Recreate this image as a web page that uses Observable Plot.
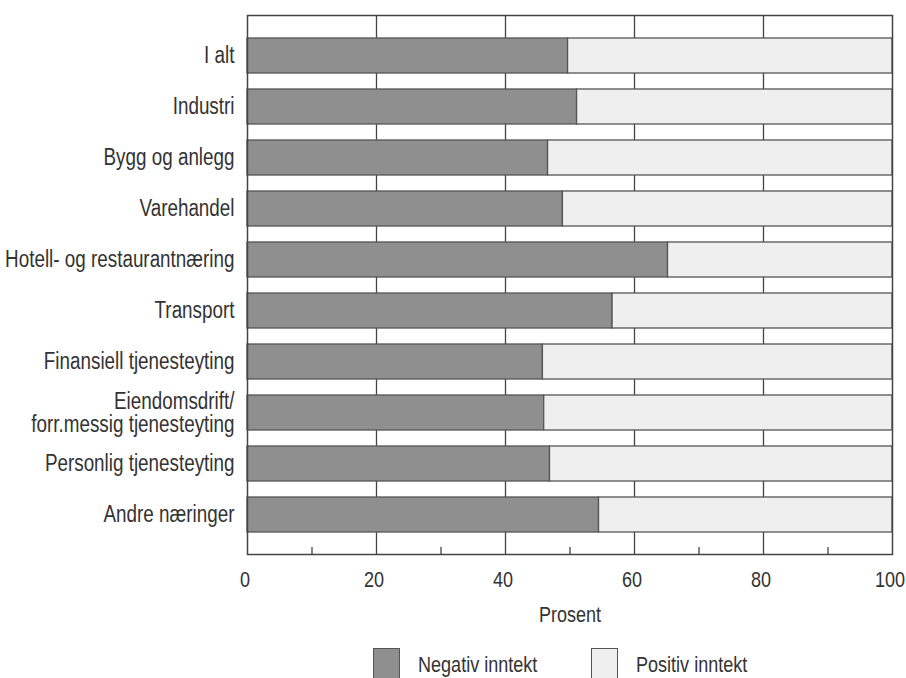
<!DOCTYPE html>
<html>
<head>
<meta charset="utf-8">
<script src="https://cdn.jsdelivr.net/npm/d3@7"></script>
<script src="https://cdn.jsdelivr.net/npm/@observablehq/plot@0.6"></script>
<style>
  body { margin: 0; background: #fff; }
  #chart { width: 906px; }
  .legend { position: relative; font-family: "Liberation Sans", Arial, sans-serif; font-size: 22px; color: #333; height: 38px; overflow: hidden; margin-top: 8px; }
  .legend .item { display: flex; align-items: flex-start; position: absolute; top: 0; }
  .legend .sw { width: 27px; height: 34px; border: 1.5px solid #555; box-sizing: border-box; margin-right: 18px; flex: none; }
  .legend span.t { margin-top: 4px; display: inline-block; transform: scaleX(0.82); transform-origin: left center; white-space: nowrap; }
</style>
</head>
<body>
<div id="chart"></div>
<script>
const categories = [
  "I alt",
  "Industri",
  "Bygg og anlegg",
  "Varehandel",
  "Hotell- og restaurantnæring",
  "Transport",
  "Finansiell tjenesteyting",
  "Eiendomsdrift/\nforr.messig tjenesteyting",
  "Personlig tjenesteyting",
  "Andre næringer"
];
const negativ = [49.7, 51.1, 46.6, 48.9, 65.2, 56.6, 45.8, 46.0, 46.9, 54.5];
const positiv = [50.3, 48.9, 53.4, 51.1, 34.8, 43.4, 54.2, 54.0, 53.1, 45.5];
const seriesNames = ["Negativ inntekt", "Positiv inntekt"];
const seriesColors = ["#8f8f8f", "#efefef"];
const majorTicks = [0, 20, 40, 60, 80, 100];
const gridTicks = [20, 40, 60, 80];
const minorTicks = [10, 30, 50, 70, 90];

const data = [];
categories.forEach((c, i) => {
  data.push({category: c, series: seriesNames[0], value: negativ[i]});
  data.push({category: c, series: seriesNames[1], value: positiv[i]});
});

const font = '"Liberation Sans", Arial, sans-serif';

const chart = Plot.plot({
  width: 906,
  height: 640,
  marginLeft: 247,
  marginRight: 14,
  marginTop: 15,
  marginBottom: 86,
  style: {fontFamily: font, fontSize: "22px", color: "#333", background: "#fff"},
  x: {domain: [0, 100]},
  y: {domain: categories, paddingInner: 0.32, paddingOuter: 0.43},
  color: {domain: seriesNames, range: seriesColors},
  marks: [
    Plot.ruleX(gridTicks, {stroke: "#444", strokeWidth: 1.3}),
    Plot.ruleX(minorTicks, {stroke: "#444", strokeWidth: 1.3, insetTop: 532}),
    Plot.barX(data, Plot.stackX({x: "value", y: "category", fill: "series", stroke: "#555", strokeWidth: 1.3, order: seriesNames})),
    Plot.frame({stroke: "#444", strokeWidth: 1.5}),
    Plot.axisY({tickSize: 0, tickPadding: 13, label: null, fontSize: 23, fill: "#333", lineHeight: 1}),
    Plot.axisX({ticks: majorTicks, tickSize: 0, tickPadding: 17, dx: -2.5, label: null, fontSize: 22, fill: "#333"}),
    Plot.axisX({ticks: [], tickSize: 0, label: "Prosent", labelAnchor: "center", labelArrow: "none", labelOffset: 67, fontSize: 22, fill: "#333"})
  ]
});
// condense text horizontally to imitate the narrow typeface of the original
chart.querySelectorAll("text").forEach(t => {
  const tr = t.getAttribute("transform");
  if (tr && tr.includes("translate")) t.setAttribute("transform", tr + " scale(0.82,1)");
});
document.getElementById("chart").appendChild(chart);

const legend = document.createElement("div");
legend.className = "legend";
const positions = [373, 591];
seriesNames.forEach((name, i) => {
  const item = document.createElement("div");
  item.className = "item";
  item.style.left = positions[i] + "px";
  const sw = document.createElement("div");
  sw.className = "sw";
  sw.style.background = seriesColors[i];
  const t = document.createElement("span");
  t.className = "t";
  t.textContent = name;
  item.appendChild(sw);
  item.appendChild(t);
  legend.appendChild(item);
});
document.body.appendChild(legend);
</script>
</body>
</html>
